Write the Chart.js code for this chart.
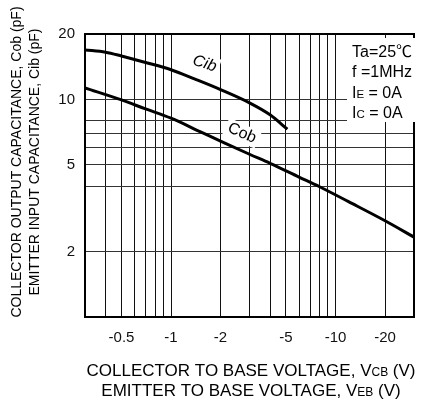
<!DOCTYPE html>
<html>
<head>
<meta charset="utf-8">
<script src="https://cdn.jsdelivr.net/npm/chart.js@4.4.1/dist/chart.umd.min.js"></script>
<style>
html, body { margin: 0; padding: 0; overflow: hidden; background: #fff; width: 424px; height: 401px; }
canvas { display: block; }
</style>
</head>
<body>
<canvas id="grafico" width="426" height="401"></canvas>
<script>
// curvas (tensao em modulo, capacitancia em pF)
var vCib = [0.3, 0.4, 0.5, 0.7, 1, 1.4, 2, 3, 4, 5.1];
var cCib = [16.9, 16.5, 15.85, 14.8, 13.7, 12.4, 11.1, 9.65, 8.5, 7.3];
var vCob = [0.3, 0.5, 0.7, 1, 1.5, 2, 3, 4, 6, 8, 12, 20, 30];
var cCob = [11.3, 9.95, 9.05, 8.2, 7.12, 6.44, 5.6, 5.09, 4.4, 3.97, 3.39, 2.77, 2.33];

var xGrid = [0.3, 0.4, 0.5, 0.6, 0.7, 0.8, 0.9, 1, 2, 3, 4, 5, 6, 7, 8, 9, 10, 20, 30];
var xTickVals = [0.5, 1, 2, 5, 10, 20];
var xTickText = ["-0.5", "-1", "-2", "-5", "-10", "-20"];
var yGrid = [1, 2, 4, 5, 6, 7, 8, 10, 20];
var yTickVals = [2, 5, 10, 20];
var yTickText = ["2", "5", "10", "20"];

var FONTE = '"Liberation Sans", Arial, "Noto Sans CJK JP", sans-serif';

function pontos(xs, ys) {
    var out = [];
    for (var i = 0; i < xs.length; i++) out.push({x: xs[i], y: ys[i]});
    return out;
}

// texto com partes de tamanhos diferentes (subscritos tipo V_CB)
function textoMisto(ctx, partes, x, y, alinhar) {
    var w = 0;
    partes.forEach(function(p) { ctx.font = p[1] + 'px ' + FONTE; w += ctx.measureText(p[0]).width; });
    var cx = alinhar === 'left' ? x : x - w / 2;
    partes.forEach(function(p) {
        ctx.font = p[1] + 'px ' + FONTE;
        ctx.fillText(p[0], cx, y);
        cx += ctx.measureText(p[0]).width;
    });
}

var extras = {
    id: 'extras',
    beforeDatasetsDraw: function(chart) {
        var ctx = chart.ctx, a = chart.chartArea;
        var sx = chart.scales.x, sy = chart.scales.y;
        ctx.save();
        ctx.strokeStyle = '#000';
        ctx.lineWidth = 2;
        ctx.strokeRect(a.left, a.top, a.right - a.left, a.bottom - a.top);

        // caixa de condicoes
        ctx.fillStyle = '#fff';
        ctx.fillRect(347, 38, 74, 84);
        ctx.fillStyle = '#000';
        ctx.textBaseline = 'alphabetic';
        textoMisto(ctx, [['Ta=25\u2103', 16]], 352, 56.5, 'left');
        textoMisto(ctx, [['f =1MHz', 16]], 352, 77, 'left');
        textoMisto(ctx, [['I', 16], ['E', 11.5], [' = 0A', 16]], 352, 97.5, 'left');
        textoMisto(ctx, [['I', 16], ['C', 11.5], [' = 0A', 16]], 352, 117.5, 'left');

        // nomes das curvas
        var nomes = [
            {t: 'Cib', v: 1.6, c: 14.6, ang: 18, it: true},
            {t: 'Cob', v: 2.7, c: 7.0, ang: 24, it: false}
        ];
        nomes.forEach(function(n) {
            ctx.save();
            ctx.translate(sx.getPixelForValue(n.v), sy.getPixelForValue(n.c));
            ctx.rotate(n.ang * Math.PI / 180);
            ctx.font = (n.it ? 'italic ' : '') + '16px ' + FONTE;
            var w = ctx.measureText(n.t).width;
            ctx.fillStyle = '#fff';
            ctx.fillRect(-w / 2 - 3, -9, w + 6, 18);
            ctx.fillStyle = '#000';
            ctx.textAlign = 'center';
            ctx.textBaseline = 'middle';
            ctx.fillText(n.t, 0, 0);
            ctx.restore();
        });
        ctx.restore();
    },
    afterDraw: function(chart) {
        var ctx = chart.ctx;
        ctx.save();
        ctx.fillStyle = '#000';
        ctx.textBaseline = 'alphabetic';
        textoMisto(ctx, [['COLLECTOR TO BASE VOLTAGE, V', 17], ['CB', 12], [' (V)', 17]], 251, 376);
        textoMisto(ctx, [['EMITTER TO BASE VOLTAGE, V', 17], ['EB', 12], [' (V)', 17]], 251, 396);

        ctx.textBaseline = 'middle';
        ctx.translate(17, 162);
        ctx.rotate(-Math.PI / 2);
        textoMisto(ctx, [['COLLECTOR OUTPUT CAPACITANCE, Cob (pF)', 14]], 0, 0);
        ctx.rotate(Math.PI / 2);
        ctx.translate(18, 0);
        ctx.rotate(-Math.PI / 2);
        textoMisto(ctx, [['EMITTER INPUT CAPACITANCE, Cib (pF)', 14]], 0, 0);
        ctx.restore();
    }
};

var ctx = document.getElementById("grafico");

var chartGraph = new Chart(ctx, {
    type: 'line',
    data: {
        datasets: [
            {
                label: "Cib",
                data: pontos(vCib, cCib),
                borderColor: "#000",
                borderWidth: 3,
                pointRadius: 0,
                cubicInterpolationMode: 'monotone'
            }, {
                label: "Cob",
                data: pontos(vCob, cCob),
                borderColor: "#000",
                borderWidth: 3,
                pointRadius: 0,
                cubicInterpolationMode: 'monotone'
            }]
    },
    options: {
        responsive: false,
        animation: false,
        layout: { padding: { top: 34, right: 1, left: 0, bottom: 0 } },
        plugins: { legend: { display: false }, tooltip: { enabled: false } },
        scales: {
            x: {
                type: 'logarithmic',
                min: 0.3,
                max: 30,
                afterBuildTicks: function(s) { s.ticks = xGrid.map(function(v) { return {value: v}; }); },
                afterFit: function(s) { s.height = 84; },
                grid: { color: '#111', lineWidth: 1, drawTicks: false },
                border: { display: false },
                ticks: {
                    autoSkip: false,
                    maxRotation: 0,
                    padding: 12,
                    color: '#111',
                    font: { family: FONTE, size: 15 },
                    callback: function(v) {
                        var i = xTickVals.indexOf(v);
                        return i >= 0 ? xTickText[i] : '';
                    }
                }
            },
            y: {
                type: 'logarithmic',
                min: 1,
                max: 20,
                afterBuildTicks: function(s) { s.ticks = yGrid.map(function(v) { return {value: v}; }); },
                afterFit: function(s) { s.width = 85; },
                grid: { color: '#333', lineWidth: 1, drawTicks: false },
                border: { display: false },
                ticks: {
                    autoSkip: false,
                    padding: 10,
                    color: '#111',
                    font: { family: FONTE, size: 15 },
                    callback: function(v) {
                        var i = yTickVals.indexOf(v);
                        return i >= 0 ? yTickText[i] : '';
                    }
                }
            }
        }
    },
    plugins: [extras]
});
</script>
</body>
</html>
